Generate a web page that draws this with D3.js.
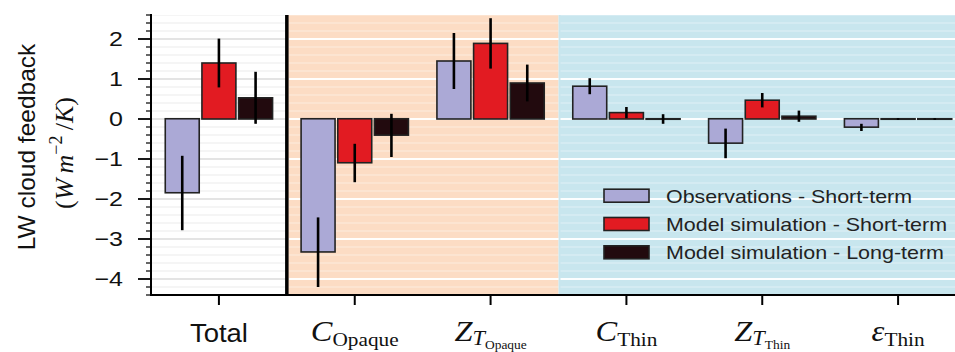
<!DOCTYPE html>
<html>
<head>
<meta charset="utf-8">
<script src="https://cdn.jsdelivr.net/npm/d3@7"></script>
<style>
  html, body { margin: 0; padding: 0; background: #fff; }
  svg { display: block; }
</style>
</head>
<body>
<svg id="chart" width="955" height="352"></svg>
<script>
// Feedback components (category index order)
const categories = ["Total", "C_Opaque", "Z_T_Opaque", "C_Thin", "Z_T_Thin", "eps_Thin"];
const seriesNames = ["Observations - Short-term", "Model simulation - Short-term", "Model simulation - Long-term"];
const seriesColors = ["#aba9d6", "#e21b22", "#220a0e"];

const obsShort      = [-1.85, -3.33, 1.45, 0.82, -0.61, -0.21];
const obsShortErr   = [ 0.93,  0.87, 0.70, 0.20,  0.37,  0.09];
const modelShort    = [ 1.40, -1.10, 1.89, 0.16,  0.47,  0.00];
const modelShortErr = [ 0.61,  0.48, 0.63, 0.14,  0.18,  0.02];
const modelLong     = [ 0.53, -0.41, 0.90, 0.00,  0.07,  0.00];
const modelLongErr  = [ 0.65,  0.54, 0.46, 0.12,  0.14,  0.02];

const yTicks = [2, 1, 0, -1, -2, -3, -4];

const series = [
  { name: seriesNames[0], values: obsShort,   errs: obsShortErr,   color: seriesColors[0] },
  { name: seriesNames[1], values: modelShort, errs: modelShortErr, color: seriesColors[1] },
  { name: seriesNames[2], values: modelLong,  errs: modelLongErr,  color: seriesColors[2] }
];

const svg = d3.select("#chart");
const W = 955, H = 352;

const x = d3.scaleLinear().domain([-0.5, 5.5]).range([151, 966]);
const y = d3.scaleLinear().domain([-4.4, 2.6]).range([295, 15]);

const barW = 0.25;
const offsets = [-0.27, 0, 0.27];

svg.append("defs").append("clipPath").attr("id", "plotclip")
  .append("rect").attr("x", x(-0.5)).attr("y", y(2.6))
  .attr("width", W - x(-0.5)).attr("height", y(-4.4) - y(2.6));

const plot = svg.append("g").attr("clip-path", "url(#plotclip)");

// Panel backgrounds: total / opaque clouds / thin clouds
const panels = [
  { from: -0.5, to: 0.5, fill: "#ffffff", minor: "#ececec", major: "#e4e4e4" },
  { from: 0.5,  to: 2.5, fill: "#fcdcc4", minor: "rgba(255,255,255,0.45)", major: "rgba(255,255,255,0.95)" },
  { from: 2.5,  to: 5.5, fill: "#c8e6ee", minor: "rgba(255,255,255,0.45)", major: "rgba(255,255,255,0.95)" }
];
plot.selectAll("rect.panel").data(panels).join("rect")
  .attr("class", "panel")
  .attr("x", d => x(d.from)).attr("width", d => x(d.to) - x(d.from))
  .attr("y", y(2.6)).attr("height", y(-4.4) - y(2.6))
  .attr("fill", d => d.fill);

// Horizontal grid every 0.2, stronger at integers
const gridVals = d3.range(-22, 14).map(k => k / 5);
const isMajor = d => Math.abs(d - Math.round(d)) < 1e-6;
panels.forEach(p => {
  plot.append("g").selectAll("line").data(gridVals).join("line")
    .attr("x1", x(p.from) + (p.from > -0.5 ? 2 : 1)).attr("x2", x(p.to))
    .attr("y1", d => y(d)).attr("y2", d => y(d))
    .attr("stroke", d => isMajor(d) ? p.major : p.minor)
    .attr("stroke-width", d => isMajor(d) ? 2 : 1.2);
});

// Bars and error bars (near-zero bars still show as a flat outline)
series.forEach((s, si) => {
  const g = plot.append("g");
  g.selectAll("rect").data(s.values).join("rect")
    .attr("x", (v, i) => x(i + offsets[si] - barW / 2))
    .attr("width", x(barW) - x(0))
    .attr("y", v => Math.min(y(Math.max(0, v)), y(0) - 0.25))
    .attr("height", v => Math.max(Math.abs(y(v) - y(0)), 0.5))
    .attr("fill", s.color)
    .attr("stroke", "#222")
    .attr("stroke-width", 1.6);
  g.selectAll("line").data(s.values).join("line")
    .attr("x1", (v, i) => x(i + offsets[si])).attr("x2", (v, i) => x(i + offsets[si]))
    .attr("y1", (v, i) => y(v + s.errs[i])).attr("y2", (v, i) => y(v - s.errs[i]))
    .attr("stroke", "#000").attr("stroke-width", 2.6);
});

// Separator between total and decomposition
svg.append("line")
  .attr("x1", x(0.5)).attr("x2", x(0.5)).attr("y1", y(2.6)).attr("y2", y(-4.4))
  .attr("stroke", "#000").attr("stroke-width", 3.5);

// Spines
svg.append("line").attr("x1", x(-0.5)).attr("x2", x(-0.5)).attr("y1", y(2.6) - 1).attr("y2", y(-4.4) + 1)
  .attr("stroke", "#000").attr("stroke-width", 2);
svg.append("line").attr("x1", x(-0.5) - 1).attr("x2", W).attr("y1", y(-4.4)).attr("y2", y(-4.4))
  .attr("stroke", "#000").attr("stroke-width", 2);

// Y axis ticks
const minorVals = gridVals.filter(v => !isMajor(v));
svg.append("g").selectAll("line").data(minorVals).join("line")
  .attr("x1", x(-0.5) - 5).attr("x2", x(-0.5))
  .attr("y1", d => y(d)).attr("y2", d => y(d))
  .attr("stroke", "#000").attr("stroke-width", 1.2);
svg.append("g").selectAll("line").data(yTicks).join("line")
  .attr("x1", x(-0.5) - 13).attr("x2", x(-0.5))
  .attr("y1", d => y(d)).attr("y2", d => y(d))
  .attr("stroke", "#000").attr("stroke-width", 1.8);

const fmt = v => (v < 0 ? "\u2212" : "") + Math.abs(v);
svg.append("g").selectAll("text").data(yTicks).join("text")
  .attr("transform", d => `translate(123,${y(d) + 7.4}) scale(1.22,1)`)
  .attr("text-anchor", "end")
  .attr("font-family", "Liberation Sans, Arial, sans-serif")
  .attr("font-size", 20.5).attr("fill", "#111")
  .text(fmt);

// X axis ticks
svg.append("g").selectAll("line").data(categories).join("line")
  .attr("x1", (c, i) => x(i)).attr("x2", (c, i) => x(i))
  .attr("y1", y(-4.4)).attr("y2", y(-4.4) + 10)
  .attr("stroke", "#000").attr("stroke-width", 2);

// Category labels
const serif = "Liberation Serif, Times New Roman, serif";
const labelY = 341;
function mathLabel(i, parts) {
  const t = svg.append("text")
    .attr("transform", `translate(${x(i)},${labelY}) scale(1.12,1)`)
    .attr("text-anchor", "middle")
    .attr("font-family", serif).attr("fill", "#111");
  parts.forEach(p => {
    t.append("tspan")
      .attr("font-size", p.size)
      .attr("font-style", p.italic ? "italic" : "normal")
      .attr("dy", p.dy || 0)
      .text(p.text);
  });
}
svg.append("text")
  .attr("transform", `translate(${x(0)},${labelY + 1}) scale(1.1,1)`)
  .attr("text-anchor", "middle")
  .attr("font-family", "Liberation Sans, Arial, sans-serif")
  .attr("font-size", 25).attr("fill", "#111")
  .text("Total");
mathLabel(1, [{ text: "C", size: 29, italic: true }, { text: "Opaque", size: 19, dy: 5 }]);
mathLabel(2, [{ text: "Z", size: 29, italic: true }, { text: "T", size: 20, italic: true, dy: 4 }, { text: "Opaque", size: 12, dy: 3.5 }]);
mathLabel(3, [{ text: "C", size: 29, italic: true }, { text: "Thin", size: 19, dy: 5 }]);
mathLabel(4, [{ text: "Z", size: 29, italic: true }, { text: "T", size: 20, italic: true, dy: 4 }, { text: "Thin", size: 12, dy: 3.5 }]);
mathLabel(5, [{ text: "\u03B5", size: 29, italic: true }, { text: "Thin", size: 19, dy: 5 }]);

// Y axis title (two lines)
svg.append("text")
  .attr("transform", "translate(35,147) rotate(-90)")
  .attr("text-anchor", "middle")
  .attr("font-family", "Liberation Sans, Arial, sans-serif")
  .attr("font-size", 24.5).attr("fill", "#111")
  .text("LW cloud feedback");
const unit = svg.append("text")
  .attr("transform", "translate(73,153) rotate(-90)")
  .attr("text-anchor", "middle")
  .attr("font-family", serif).attr("font-size", 26).attr("fill", "#111");
unit.append("tspan").text("(");
unit.append("tspan").attr("font-style", "italic").text("W\u2009m");
unit.append("tspan").attr("font-size", 18).attr("dy", -11).text("\u22122");
unit.append("tspan").attr("dy", 11).text("\u2009/");
unit.append("tspan").attr("font-style", "italic").text("K");
unit.append("tspan").text(")");

// Legend
const legend = svg.append("g");
const rowY = [195.7, 224, 252.3];
const textLen = [246, 281, 278];
series.forEach((s, si) => {
  legend.append("rect")
    .attr("x", 604).attr("y", rowY[si] - 6.5)
    .attr("width", 45).attr("height", 13)
    .attr("fill", s.color).attr("stroke", "#222").attr("stroke-width", 1.6);
  legend.append("text")
    .attr("x", 666).attr("y", rowY[si] + 6.8)
    .attr("font-family", "Liberation Sans, Arial, sans-serif")
    .attr("font-size", 18.5).attr("fill", "#222")
    .attr("textLength", textLen[si]).attr("lengthAdjust", "spacingAndGlyphs")
    .text(s.name);
});
</script>
</body>
</html>
